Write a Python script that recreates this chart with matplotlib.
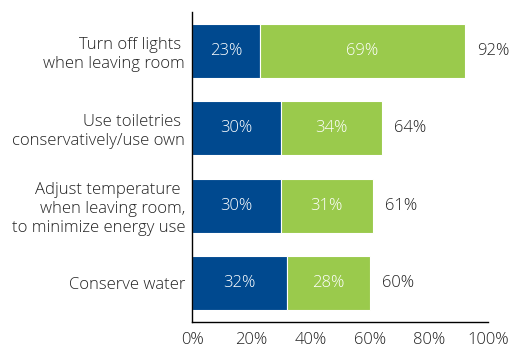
import matplotlib.pyplot as plt
import numpy as np

plt.rcParams['font.family'] = ['Open Sans', 'DejaVu Sans']
plt.rcParams['font.weight'] = 'light'

# Data (top to bottom in the chart)
categories = ['Turn off lights \nwhen leaving room',
              'Use toiletries \nconservatively/use own',
              'Adjust temperature \nwhen leaving room,\nto minimize energy use',
              'Conserve water']
first = [23, 30, 30, 32]
second = [69, 34, 31, 28]
totals = [92, 64, 61, 60]
xticks = [0, 20, 40, 60, 80, 100]

blue = '#00498F'
green = '#9ACA4C'

fig = plt.figure(figsize=(5.15, 3.48), dpi=100)
ax = fig.add_axes([0.373, 0.075, 0.575, 0.89])

y = np.arange(len(categories))
ax.barh(y, first, height=0.7, color=blue, edgecolor='white', linewidth=0.8)
ax.barh(y, second, left=first, height=0.7, color=green, edgecolor='white', linewidth=0.8)

# labels inside segments
for i in range(len(categories)):
    ax.text(first[i] / 2, y[i], f'{first[i]}%', ha='center', va='center',
            color='white', fontsize=12)
    ax.text(first[i] + second[i] / 2, y[i], f'{second[i]}%', ha='center',
            va='center', color='white', fontsize=12)
    ax.annotate(f'{totals[i]}%', xy=(totals[i], y[i]), xytext=(9, 0),
                textcoords='offset points', ha='left', va='center',
                color='#222222', fontsize=12)

ax.set_ylim(3.5, -0.5)
ax.set_xlim(0, 100)
ax.set_yticks(y)
ax.set_yticklabels(categories, fontsize=12, color='#222222', linespacing=1.25)
ax.set_xticks(xticks)
ax.set_xticklabels([f'{t}%' for t in xticks], fontsize=12, color='#222222')
ax.tick_params(length=0)
ax.tick_params(axis='y', pad=5)
ax.tick_params(axis='x', pad=7)

for s in ['top', 'right']:
    ax.spines[s].set_visible(False)
for s in ['left', 'bottom']:
    ax.spines[s].set_color('black')
    ax.spines[s].set_linewidth(1)

fig.savefig('out.png', dpi=100)
